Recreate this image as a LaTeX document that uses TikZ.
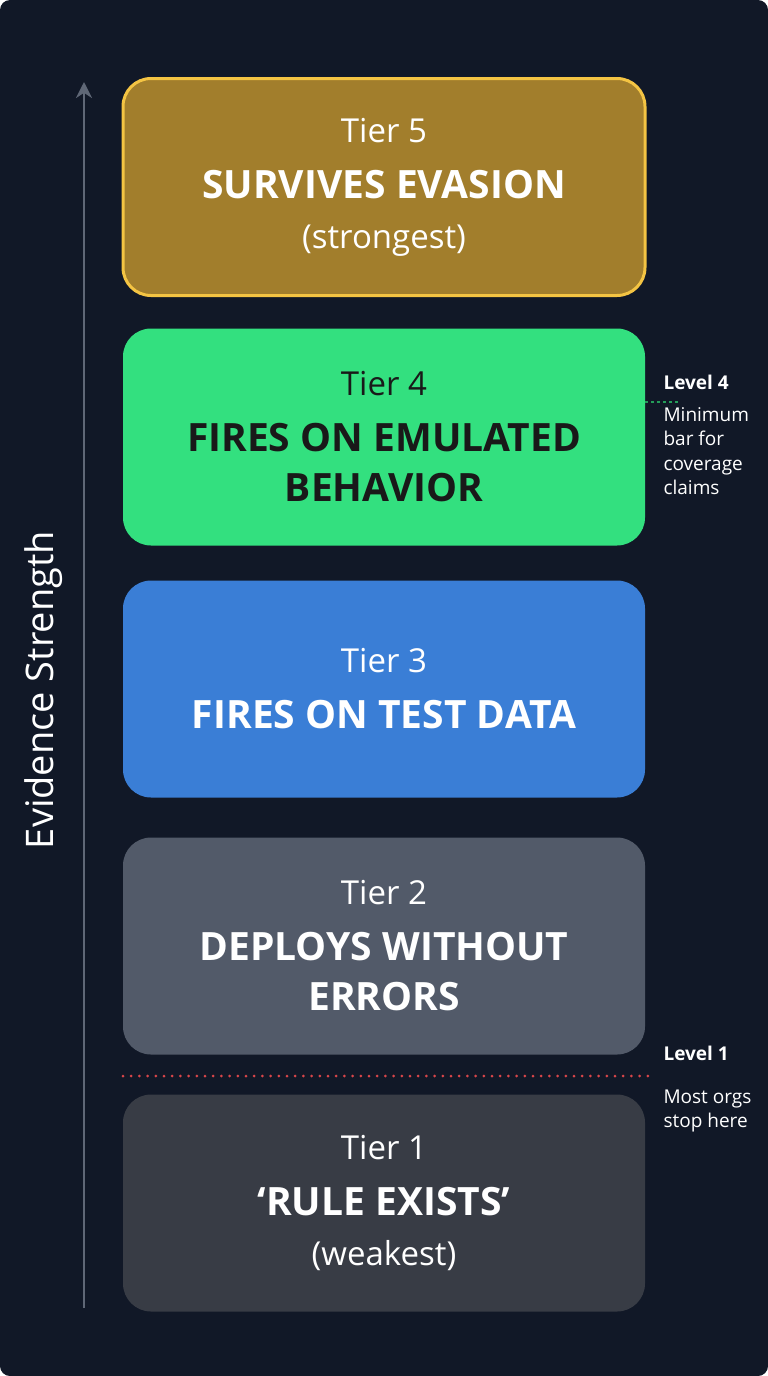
\documentclass[tikz,border=0pt]{standalone}
\usepackage{fontspec}
\setmainfont{Open Sans}
\usetikzlibrary{arrows.meta}
\definecolor{bgc}{HTML}{111827}
\definecolor{goldc}{HTML}{A27E2C}
\definecolor{goldl}{HTML}{F4C443}
\definecolor{greenc}{HTML}{33E07F}
\definecolor{bluec}{HTML}{3A7ED6}
\definecolor{grayc}{HTML}{525A69}
\definecolor{darkc}{HTML}{383C45}
\definecolor{axisc}{HTML}{5F6776}
\definecolor{redc}{HTML}{D9464A}
\newcommand{\tiername}{\fontsize{33}{50}\selectfont}
\newcommand{\tiertitle}{\fontsize{39}{50}\selectfont\bfseries}
\begin{document}
\begin{tikzpicture}[x=1pt,y=-1pt,
	tier/.style={rounded corners=28pt, minimum width=522pt, minimum height=217pt,
		align=center, text=white, inner sep=0pt, font=\fontsize{33}{50}\selectfont},
	note/.style={anchor=north west, align=left, text=white, font=\fontsize{19}{24.5}\selectfont}]
	% Background
	\fill[bgc, rounded corners=10pt] (0,0) rectangle (768,1376);
	\useasboundingbox (0,0) rectangle (768,1376);

	% Tiers
	\node [tier, fill=goldc, draw=goldl, line width=3pt] (t5) at (384,187)
		{{\tiername Tier 5}\\[6pt]{\tiertitle SURVIVES EVASION}\\{\tiername (strongest)}};
	\node [tier, fill=greenc, text=black!90] (t4) at (384,437)
		{{\tiername Tier 4}\\[6pt]{\tiertitle FIRES ON EMULATED}\\{\tiertitle BEHAVIOR}};
	\node [tier, fill=bluec] (t3) at (384,689)
		{{\tiername Tier 3}\\[6pt]{\tiertitle FIRES ON TEST DATA}};
	\node [tier, fill=grayc] (t2) at (384,946)
		{{\tiername Tier 2}\\[6pt]{\tiertitle DEPLOYS WITHOUT}\\{\tiertitle ERRORS}};
	\node [tier, fill=darkc] (t1) at (384,1203)
		{{\tiername Tier 1}\\[6pt]{\tiertitle `RULE EXISTS'}\\{\tiername (weakest)}};

	% Axis
	\coordinate (abot) at (84,1308);
	\coordinate (atop) at (84,82);
	\draw [axisc, line width=2.5pt, -{Stealth[length=16pt,width=16pt]}] (abot) -- (atop);
	\node [rotate=90, text=white, font=\fontsize{38}{44}\selectfont] (alabel) at (44,690) {Evidence Strength};

	% Level 4 marker
	\coordinate (l4) at (678,402);
	\draw [greenc!70!black, line width=1.5pt, dashed] (t4.east |- l4) -- (l4);
	\node [note, font=\fontsize{19}{24}\selectfont\bfseries] (l4name) at (660,372) {Level 4};
	\node [note] (l4text) at (660,404) {Minimum\\bar for\\coverage\\claims};

	% Level 1 marker
	\coordinate (l1a) at (123,1076);
	\coordinate (l1b) at (655,1076);
	\draw [redc, line width=3pt, line cap=round, dash pattern=on 0pt off 8.2pt] (l1a) -- (l1b);
	\node [note, font=\fontsize{19}{24}\selectfont\bfseries] (l1name) at (660,1043) {Level 1};
	\node [note] (l1text) at (660,1086) {Most orgs\\stop here};
\end{tikzpicture}
\end{document}
